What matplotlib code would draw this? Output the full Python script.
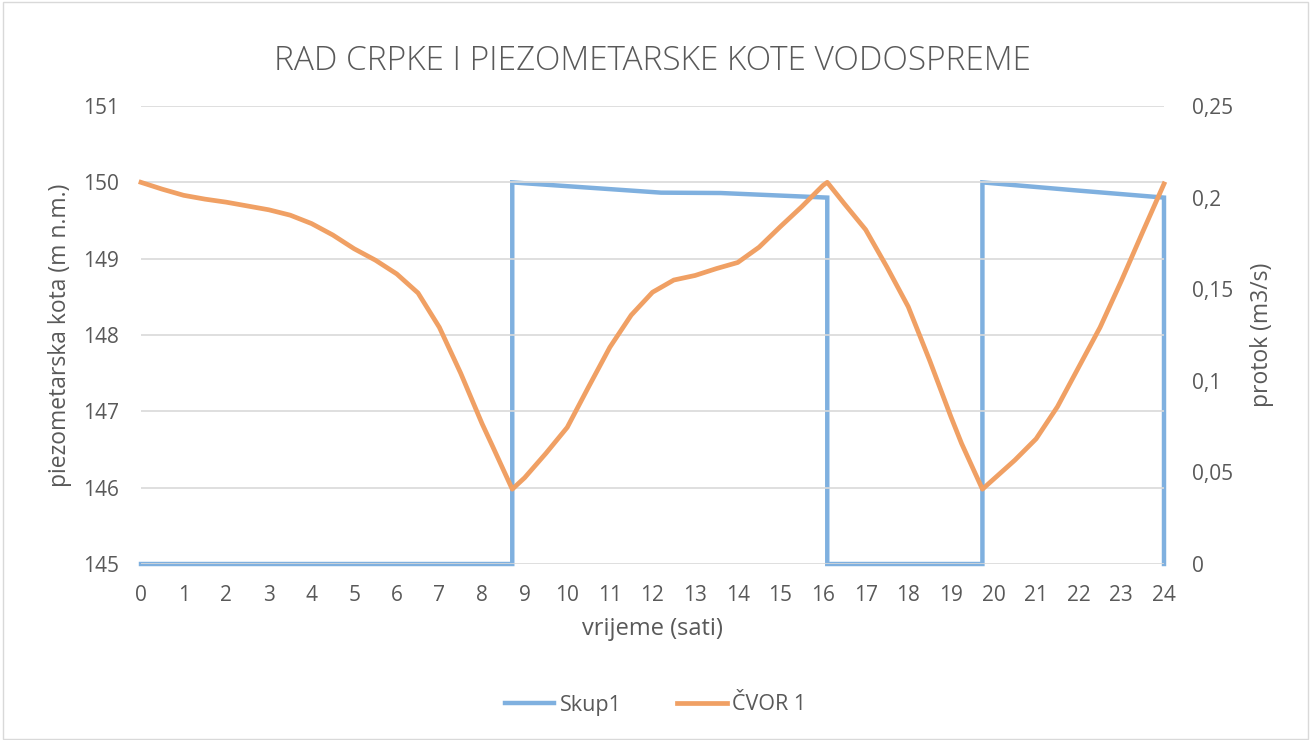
import numpy as np
import matplotlib.pyplot as plt
from matplotlib.patches import Rectangle
from matplotlib.ticker import FuncFormatter

# pump flow (Skup1), m3/s, step series
pump_t = [0, 8.71, 8.71, 12.2, 13.6, 16.1, 16.1, 19.74, 19.74, 21.9, 24, 24]
pump_q = [0, 0, 0.2083, 0.2027, 0.2025, 0.2, 0, 0, 0.2083, 0.204, 0.2, 0]

# piezometric level (ČVOR 1), m n.m.
level_t = [0, 0.5, 1, 1.5, 2, 2.5, 3, 3.5, 4, 4.5, 5, 5.5, 6, 6.5, 7, 7.5, 8, 8.25, 8.71,
           9, 9.5, 10, 10.5, 11, 11.5, 12, 12.5, 13, 13.5, 14, 14.5, 15, 15.5, 16, 16.1,
           16.5, 17, 17.5, 18, 18.5, 19, 19.25, 19.74, 20, 20.5, 21, 21.5, 22, 22.5, 23, 23.5, 24]
level_h = [150.0, 149.91, 149.83, 149.78, 149.74, 149.69, 149.64, 149.57, 149.46, 149.31, 149.13,
           148.98, 148.80, 148.55, 148.10, 147.50, 146.84, 146.54, 145.98,
           146.13, 146.45, 146.79, 147.32, 147.84, 148.26, 148.56, 148.72, 148.78, 148.87, 148.95,
           149.15, 149.42, 149.68, 149.96, 150.0,
           149.72, 149.38, 148.89, 148.37, 147.67, 146.93, 146.58, 145.98, 146.11, 146.36, 146.64,
           147.06, 147.58, 148.10, 148.71, 149.35, 149.98]

blue = '#7FB0DF'
orange = '#F0A064'
txt = '#595959'
font = 'Open Sans'

fig = plt.figure(figsize=(13.11, 7.40), dpi=100)
fig.patches.append(Rectangle((0.002, 0.002), 0.996, 0.995, transform=fig.transFigure,
                             fill=False, edgecolor='#D9D9D9', linewidth=1))

ax = fig.add_axes([141/1311, 1 - 564/740, (1164-141)/1311, (564-106)/740])
ax2 = ax.twinx()

ax.set_xlim(0, 24)
ax.set_ylim(145, 151)
ax2.set_ylim(0, 0.25)

ax.set_yticks(np.arange(145, 152, 1))
ax.set_xticks(np.arange(0, 25, 1))
ax2.set_yticks([0, 0.05, 0.1, 0.15, 0.2, 0.25])
ax2.yaxis.set_major_formatter(FuncFormatter(lambda v, p: ('%g' % round(v, 2)).replace('.', ',')))

ax.grid(axis='y', color='#D9D9D9', linewidth=1.2)
ax.set_axisbelow(True)
for a in (ax, ax2):
    for s in a.spines.values():
        s.set_visible(False)
    a.tick_params(length=0, labelsize=15, colors=txt)
    for lab in a.get_xticklabels() + a.get_yticklabels():
        lab.set_fontfamily(font)
ax.tick_params(axis='y', pad=16)
ax.tick_params(axis='x', pad=15)
ax2.tick_params(axis='y', pad=20)

l2, = ax2.plot(pump_t, pump_q, color=blue, linewidth=3.2, label='Skup1',
               solid_joinstyle='miter', clip_on=False)
l1, = ax.plot(level_t, level_h, color=orange, linewidth=3.4, label='ČVOR 1', zorder=3,
              clip_on=False)
ax2.set_zorder(1)
ax.set_zorder(2)
ax.patch.set_visible(False)

ax.set_title('RAD CRPKE I PIEZOMETARSKE KOTE VODOSPREME', fontsize=24, color=txt,
             fontfamily=font, fontweight='light', pad=26)
ax.set_xlabel('vrijeme (sati)', fontsize=17, color=txt, fontfamily=font, labelpad=8)
ax.set_ylabel('piezometarska kota (m n.m.)', fontsize=16.5, color=txt, fontfamily=font, labelpad=8)
ax2.set_ylabel('protok (m3/s)', fontsize=16.5, color=txt, fontfamily=font, labelpad=12)

fig.legend([l2, l1], ['Skup1', 'ČVOR 1'], loc='center', bbox_to_anchor=(0.5, 1 - 705/740),
           ncol=2, frameon=False, prop={'family': font, 'size': 15.5}, labelcolor=txt,
           handlelength=2.3, handletextpad=0.25, columnspacing=2.6)

fig.savefig('out.png', dpi=100)
